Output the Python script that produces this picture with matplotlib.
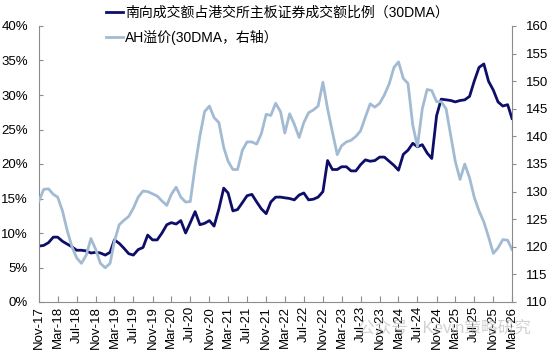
import matplotlib
matplotlib.use("Agg")
import matplotlib.pyplot as plt
import pandas as pd

plt.rcParams['font.family'] = ['Liberation Sans', 'Noto Sans CJK SC', 'DejaVu Sans']

# monthly points, Nov-17 .. Mar-26
dates = pd.date_range('2017-11-01', periods=101, freq='MS')

# 南向成交额占港交所主板证券成交额比例 (30DMA), %
southbound = [
    8.1, 8.2, 8.6, 9.4, 9.4, 8.8, 8.4, 8.0, 7.5, 7.5,
    7.4, 7.1, 7.2, 7.1, 6.8, 7.2, 9.0, 8.5, 7.8, 7.0,
    6.8, 7.6, 7.9, 9.7, 9.0, 9.0, 10.0, 11.2, 11.5, 11.3,
    11.8, 10.0, 11.5, 13.1, 11.2, 11.4, 11.8, 11.0, 13.5, 16.5,
    15.8, 13.2, 13.4, 14.4, 15.4, 15.6, 14.5, 13.5, 12.8, 14.5,
    15.2, 15.2, 15.1, 15.0, 14.8, 15.5, 15.8, 14.8, 14.9, 15.2,
    16.0, 20.5, 19.2, 19.2, 19.6, 19.6, 19.0, 19.0, 19.9, 20.6,
    20.4, 20.5, 21.0, 21.0, 20.4, 19.8, 19.1, 21.4, 22.0, 23.0,
    22.5, 22.8, 21.6, 20.8, 27.0, 29.4, 29.3, 29.2, 29.0, 29.2,
    29.3, 29.8, 32.0, 34.0, 34.5, 32.0, 30.7, 29.0, 28.4, 28.6,
    26.6,
]

# AH溢价 (30DMA), right axis
ah_premium = [
    128.3, 130.4, 130.5, 129.5, 129.0, 126.5, 123.0, 120.0, 118.0, 117.0,
    118.5, 121.5, 119.5, 117.0, 116.2, 117.0, 121.0, 124.0, 124.8, 125.5,
    127.0, 129.0, 130.1, 130.0, 129.6, 129.2, 128.3, 127.5, 129.5, 130.8,
    129.0, 128.1, 128.2, 134.6, 140.1, 144.5, 145.5, 143.4, 142.5, 138.0,
    135.5, 134.0, 134.0, 137.5, 139.0, 139.0, 138.6, 140.5, 144.0, 143.8,
    146.0, 144.5, 140.6, 144.1, 142.2, 139.8, 142.5, 144.3, 144.8, 145.5,
    149.8, 145.0, 140.8, 136.7, 138.3, 139.0, 139.3, 140.0, 141.0, 143.5,
    145.9, 145.3, 146.0, 147.5, 149.5, 152.5, 153.5, 150.5, 149.6, 142.0,
    138.2, 145.0, 148.5, 148.3, 146.3, 146.3, 145.0, 140.0, 135.5, 132.2,
    135.0, 132.5, 129.0, 126.5, 124.5, 121.8, 118.8, 119.8, 121.3, 121.2,
    119.5,
]

label_sb = '南向成交额占港交所主板证券成交额比例（30DMA）'
label_ah = 'AH溢价(30DMA，右轴）'

tick_dates = dates[::4]
tick_labels = [d.strftime('%b-%y') for d in tick_dates]

navy = '#0e0e68'
light = '#a2bbd3'
spine_c = '#8c8c8c'

fig = plt.figure(figsize=(5.5, 3.54), dpi=100)
ax = fig.add_axes([39/550, 52/354, 473/550, 276/354])
ax2 = ax.twinx()

l1, = ax.plot(dates, [v / 100 for v in southbound], color=navy, lw=2.0)
l2, = ax2.plot(dates, ah_premium, color=light, lw=2.0)

ax.set_xlim(dates[0], dates[-1])
ax.set_ylim(0, 0.40)
ax.set_yticks([i * 0.05 for i in range(9)])
ax.set_yticklabels([f'{i * 5}%' for i in range(9)])
ax2.set_ylim(110, 160)
ax2.set_yticks(range(110, 161, 5))

ax.set_xticks(tick_dates)
ax.set_xticklabels(tick_labels, rotation=90)

for a in (ax, ax2):
    a.spines['top'].set_visible(False)
    for s in ('left', 'right', 'bottom'):
        a.spines[s].set_color(spine_c)
ax.spines['right'].set_visible(False)
ax2.spines['left'].set_visible(False)
ax2.spines['bottom'].set_visible(False)

ax.tick_params(axis='y', direction='in', length=3, color=spine_c, labelsize=9.5, pad=8)
ax.tick_params(axis='x', direction='in', length=4, color=spine_c, labelsize=9.5, pad=3)
ax2.tick_params(axis='y', direction='out', length=3, color=spine_c, labelsize=9.5, pad=7)

fig.legend([l1, l2], [label_sb, label_ah], loc='upper left',
           bbox_to_anchor=(106/550, 1 - 6/354), frameon=False, fontsize=10,
           handlelength=1.2, handletextpad=0.15, labelspacing=0.7,
           borderpad=0, borderaxespad=0)

# watermark
fig.text(358/550, 0.06, '公众号 · Kevin策略研究', fontsize=12, color='#b4b4b4', alpha=0.6)

fig.savefig('out.png', dpi=100)
